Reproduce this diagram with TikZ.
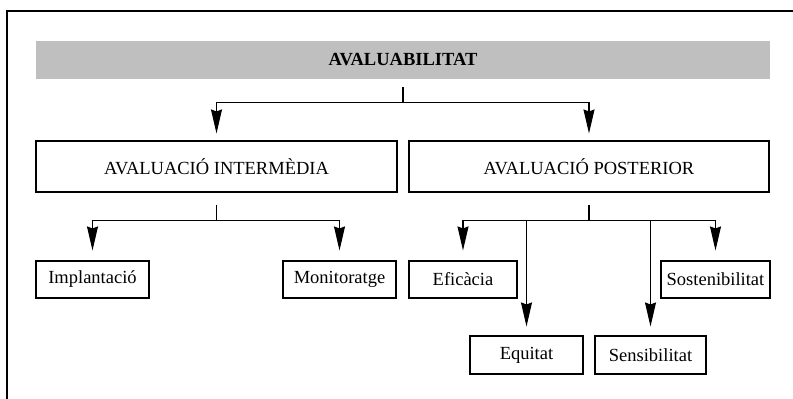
\documentclass[tikz,border=0pt]{standalone}
\usepackage{fontspec}
\setmainfont{Liberation Serif}
\usetikzlibrary{arrows.meta}

\begin{document}
\begin{tikzpicture}[x=1pt,y=-1pt,>={Stealth[length=24pt,width=11pt,inset=2pt]},
    box/.style={rectangle,draw,line width=1.1pt,inner sep=0pt,font=\fontsize{18.5}{20}\selectfont},
    link/.style={->,line width=1.1pt}]
    \useasboundingbox (0,0) rectangle (793,399);
    \draw[line width=1.5pt] (7,399) -- (7,11) -- (793,11);
    \node (banner) at (403,60) [rectangle,fill=black!25!white,minimum width=734pt,minimum height=38pt,font=\fontsize{18.5}{20}\selectfont\bfseries]{AVALUABILITAT};
    \node (inter) at (216.5,166.5) [box,minimum width=361pt,minimum height=51pt]{AVALUACIÓ INTERMÈDIA};
    \node (post) at (589,166.5) [box,minimum width=360pt,minimum height=51pt]{AVALUACIÓ POSTERIOR};
    \node (impl) at (92.5,279.5) [box,minimum width=113pt,minimum height=37pt]{Implantació};
    \node (moni) at (339.5,279.5) [box,minimum width=113pt,minimum height=37pt]{Monitoratge};
    \node (efic) at (463,279.5) [box,minimum width=108pt,minimum height=37pt]{Eficàcia};
    \node (sost) at (715.5,279.5) [box,minimum width=109pt,minimum height=37pt]{Sostenibilitat};
    \node (equi) at (526.5,355) [box,minimum width=113pt,minimum height=38pt]{Equitat};
    \node (sens) at (650.5,355) [box,minimum width=111pt,minimum height=38pt]{Sensibilitat};
    % top level
    \draw[line width=1.1pt] ([yshift=-8pt]banner.south) -- ++(0,15) coordinate (topbar);
    \draw[link,shorten >=7pt] (topbar) -| (inter.north);
    \draw[link,shorten >=7pt] (topbar) -| (post.north);
    % intermedia
    \draw[line width=1.1pt] ([yshift=-12pt]inter.south) -- ++(0,16) coordinate (interbar);
    \draw[link,shorten >=10pt] (interbar) -| (impl.north);
    \draw[link,shorten >=10pt] (interbar) -| (moni.north);
    % posterior
    \draw[line width=1.1pt] ([yshift=-12pt]post.south) -- ++(0,16) coordinate (postbar);
    \draw[link,shorten >=10pt] (postbar) -| (efic.north);
    \draw[link,shorten >=10pt] (postbar) -| (sost.north);
    \draw[link,shorten >=9pt] (postbar) -| (equi.north);
    \draw[link,shorten >=9pt] (postbar) -| (sens.north);
  \end{tikzpicture}
\end{document}
